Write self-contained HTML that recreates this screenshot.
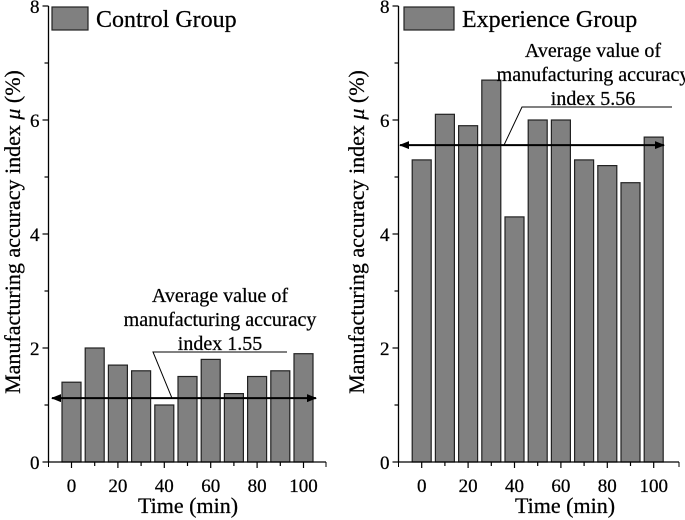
<!DOCTYPE html>
<html><head><meta charset="utf-8"><style>
html,body{margin:0;padding:0;background:#fff;}
svg{display:block;font-family:"Liberation Serif",serif;}
text{stroke:#000;stroke-width:0.25px;}
</style></head><body>
<svg id="chart" width="685" height="520" viewBox="0 0 685 520"></svg>
<script>
const categories=[0,10,20,30,40,50,60,70,80,90,100];
const controlValues=[1.4,2.0,1.7,1.6,1.0,1.5,1.8,1.2,1.5,1.6,1.9];
const experienceValues=[5.3,6.1,5.9,6.7,4.3,6.0,6.0,5.3,5.2,4.9,5.7];
const controlAverage=1.12;
const experienceAverage=5.56;
const controlLabel="1.55";
const experienceLabel="5.56";
const yTicks=[0,2,4,6,8];
const xTicks=[0,20,40,60,80,100];

const NS="http://www.w3.org/2000/svg";
const svg=document.getElementById('chart');
function mk(tag,attrs,parent,text){
  const e=document.createElementNS(NS,tag);
  for(const k in attrs)e.setAttribute(k,attrs[k]);
  if(text!==undefined)e.textContent=text;
  (parent||svg).appendChild(e);return e;
}
svg.innerHTML='<defs><marker id="ah" markerWidth="10" markerHeight="8" refX="9" refY="4" orient="auto-start-reverse" markerUnits="userSpaceOnUse"><path d="M0,0 L10,4 L0,8 Z" fill="#000"/></marker></defs>';

function panel(cfg){
  const g=mk('g',{});
  
  
  const y0=462,ppu=57;
  const Y=v=>y0-v*ppu;
  const X=c=>cfg.x0+c*2.32;
  cfg.values.forEach((v,i)=>{
    const r=mk('rect',{x:X(categories[i])-9.5,y:Y(v),width:19,height:Y(0)-Y(v),fill:'#808080',stroke:'#222','stroke-width':1.2},g);
    
    
  });
  const ax=mk('path',{d:`M${cfg.axX},${Y(8)} V${y0} H${cfg.axEnd}`,fill:'none',stroke:'#000','stroke-width':1.3},g);
  
  
  for(let v=0;v<=8;v++){
    mk('line',{x1:cfg.axX,x2:cfg.axX-(v%2?4:6),y1:Y(v),y2:Y(v),stroke:'#000','stroke-width':1.2},g);
  }
  yTicks.forEach(v=>{
    const t=mk('text',{x:cfg.axX-9,y:Y(v)+7,'text-anchor':'end','font-size':19},g,String(v));
    
    
  });
  mk('line',{x1:cfg.axX,x2:cfg.axX,y1:y0,y2:y0+5,stroke:'#000'},g);
  mk('line',{x1:cfg.axEnd,x2:cfg.axEnd,y1:y0,y2:y0+5,stroke:'#000'},g);
  for(let c=0;c<=100;c+=10){
    mk('line',{x1:X(c),x2:X(c),y1:y0,y2:y0+(c%20?4:6),stroke:'#000','stroke-width':1.2},g);
  }
  xTicks.forEach(c=>{
    const t=mk('text',{x:X(c),y:492,'text-anchor':'middle','font-size':19},g,String(c));
    
    
  });
  const xt=mk('text',{x:cfg.xTitleX,y:513,'text-anchor':'middle','font-size':22},g,'Time (min)');
  
  
  const yt=mk('text',{transform:`translate(${cfg.yTitleX},232) rotate(-90)`,'text-anchor':'middle','font-size':22},g);
  
  
  mk('tspan',{},yt,'Manufacturing accuracy index ');
  mk('tspan',{'font-style':'italic'},yt,'μ');
  mk('tspan',{},yt,' (%)');
  const lr=mk('rect',{x:cfg.legX,y:7,width:cfg.legW,height:23,fill:'#808080',stroke:'#222','stroke-width':1.2},g);
  
  
  const lt=mk('text',{x:cfg.legX+cfg.legW+8,y:27,'font-size':24},g,cfg.legend);
  
  
  const ay=Y(cfg.avg);
  const ar=mk('line',{x1:cfg.arrL,x2:cfg.arrR,y1:ay,y2:ay,stroke:'#000','stroke-width':2,'marker-start':'url(#ah)','marker-end':'url(#ah)'},g);
  
  
  const ld=mk('path',{d:`M${cfg.leadX},${ay} L${cfg.leadTopX},${cfg.leadY} H${cfg.leadEnd}`,fill:'none',stroke:'#000','stroke-width':1},g);
  
  
  const lines=['Average value of','manufacturing accuracy','index '+cfg.avgLabel];
  lines.forEach((s,i)=>{
    const t=mk('text',{x:cfg.annX,y:cfg.annY+i*24,'text-anchor':'middle','font-size':20},g,s);
    
    
  });
}
panel({name:'control-panel',values:controlValues,x0:71.5,axX:48.5,axEnd:326,xTitleX:188,yTitleX:20,legX:52,legW:36,legend:'Control Group',avg:controlAverage,avgLabel:controlLabel,arrL:52,arrR:316,leadX:172,leadTopX:153,leadY:352,leadEnd:287,annX:220,annY:302});
panel({name:'experience-panel',values:experienceValues,x0:421.7,axX:398.5,axEnd:679,xTitleX:565,yTitleX:364,legX:404,legW:50,legend:'Experience Group',avg:experienceAverage,avgLabel:experienceLabel,arrL:400,arrR:664,leadX:504,leadTopX:522,leadY:107,leadEnd:672,annX:593,annY:57});
</script>
</body></html>
